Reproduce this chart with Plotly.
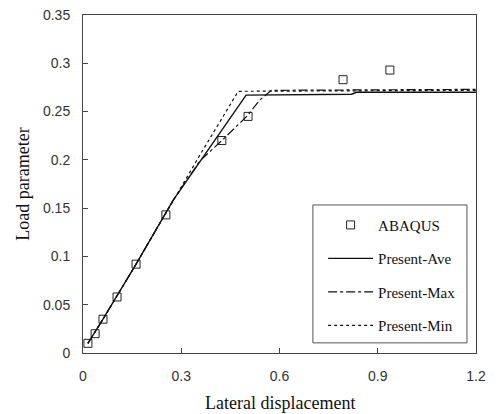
import plotly.graph_objects as go

# ABAQUS reference points
abaqus_x = [0.015, 0.037, 0.061, 0.104, 0.162, 0.253, 0.424, 0.504, 0.794, 0.937]
abaqus_y = [0.010, 0.020, 0.035, 0.058, 0.092, 0.143, 0.220, 0.245, 0.283, 0.293]

# Present-Ave
ave_x = [0.015, 0.061, 0.162, 0.275, 0.498, 0.82, 0.835, 1.2]
ave_y = [0.010, 0.035, 0.092, 0.158, 0.267, 0.268, 0.270, 0.270]

# Present-Max
max_x = [0.015, 0.061, 0.162, 0.275, 0.357, 0.424, 0.500, 0.540, 0.575, 1.2]
max_y = [0.010, 0.035, 0.092, 0.158, 0.199, 0.220, 0.245, 0.262, 0.272, 0.273]

# Present-Min
min_x = [0.015, 0.061, 0.162, 0.275, 0.357, 0.474, 1.2]
min_y = [0.010, 0.035, 0.092, 0.158, 0.205, 0.271, 0.272]

x_ticks = [0, 0.3, 0.6, 0.9, 1.2]
x_tick_text = ["0", "0.3", "0.6", "0.9", "1.2"]
y_ticks = [0, 0.05, 0.1, 0.15, 0.2, 0.25, 0.3, 0.35]
y_tick_text = ["0", "0.05", "0.1", "0.15", "0.2", "0.25", "0.3", "0.35"]
x_title = "Lateral displacement"
y_title = "Load parameter"

SERIF = "Liberation Serif, Times New Roman, serif"
SANS = "Liberation Sans, Arial, sans-serif"

fig = go.Figure()
fig.add_trace(go.Scatter(x=abaqus_x, y=abaqus_y, mode="markers", name="ABAQUS",
                         legendgroup="a",
                         marker=dict(symbol="square-open", size=8,
                                     color="#222", line=dict(width=1, color="#222"))))
fig.add_trace(go.Scatter(x=ave_x, y=ave_y, mode="lines", name="Present-Ave",
                         legendgroup="b",
                         line=dict(color="#111", width=1.4, dash="solid")))
fig.add_trace(go.Scatter(x=max_x, y=max_y, mode="lines", name="Present-Max",
                         legendgroup="c",
                         line=dict(color="#111", width=1.2, dash="dashdot")))
fig.add_trace(go.Scatter(x=min_x, y=min_y, mode="lines", name="Present-Min",
                         legendgroup="d",
                         line=dict(color="#111", width=1.2, dash="dot")))

axis_common = dict(showgrid=False, zeroline=False, showline=True, mirror=True,
                   linecolor="#444", linewidth=1, ticks="inside", ticklen=5,
                   tickcolor="#444",
                   tickfont=dict(family=SANS, size=14, color="#333"))

fig.update_xaxes(range=[0, 1.2], tickvals=x_ticks, ticktext=x_tick_text,
                 ticklabelstandoff=10, automargin=False,
                 **axis_common)
fig.update_yaxes(range=[0, 0.35], tickvals=y_ticks, ticktext=y_tick_text,
                 ticklabelstandoff=9, automargin=False,
                 title=dict(text=y_title,
                            font=dict(family=SERIF, size=18, color="#111"),
                            standoff=8),
                 **axis_common)

fig.add_annotation(text=x_title, xref="paper", yref="paper", x=0.5, y=-0.148,
                   xanchor="center", yanchor="middle", showarrow=False,
                   font=dict(family=SERIF, size=18, color="#111"))

# legend frame (paper coordinates)
fig.add_shape(type="rect", xref="paper", yref="paper",
              x0=0.585, x1=0.977, y0=0.03, y1=0.438,
              line=dict(color="#555", width=1), fillcolor="white", layer="below")

fig.update_layout(
    width=497, height=414,
    margin=dict(l=83, r=21, t=15, b=61),
    paper_bgcolor="white", plot_bgcolor="white",
    showlegend=True,
    legend=dict(x=0.611, y=0.427, xanchor="left", yanchor="top",
                bgcolor="rgba(0,0,0,0)", borderwidth=0,
                font=dict(family=SERIF, size=15, color="#111"),
                tracegroupgap=11, itemwidth=45),
)

fig.write_html("out.html")
